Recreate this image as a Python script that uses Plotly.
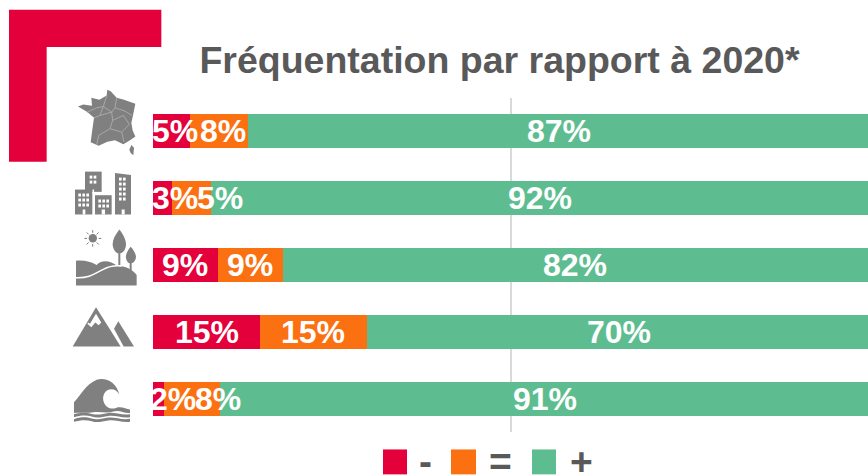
import re
import plotly.graph_objects as go

categories = ["France", "Urbain", "Campagne", "Montagne", "Littoral"]
series_names = ["-", "=", "+"]
series_colors = ["#E4003A", "#FB7011", "#5EBD90"]
moins = [5.2, 2.7, 9.1, 15.0, 1.6]
egal = [8.1, 5.4, 9.1, 14.9, 7.8]
plus = [86.7, 91.9, 81.8, 70.1, 90.6]
labels = [["5%", "3%", "9%", "15%", "2%"],
          ["8%", "5%", "9%", "15%", "8%"],
          ["87%", "92%", "82%", "70%", "91%"]]
label_pos = [[3.1, 3.1, 4.5, 7.5, 2.8],
             [9.8, 9.4, 13.6, 22.4, 9.1],
             [56.7, 54.0, 59.0, 65.1, 54.8]]
title_text = "Fréquentation par rapport à 2020*"

W, H = 868, 476
L, R, T, B = 153, 0, 97.5, 43.5
GREY = "#808080"
TXT = "#595959"

def conv(path, oy=0.0, ox=0.0):
    """Path written in 3x zoom pixels -> paper coordinates."""
    toks = re.findall(r"[A-Za-z]|-?\d+\.?\d*", path)
    out, isx = [], True
    for t in toks:
        if t.isalpha():
            out.append(t); isx = True
        else:
            v = float(t)
            if isx:
                out.append(f"{(v / 3 + ox - L) / (W - L - R):.5f}")
            else:
                out.append(f"{(H - B - (v / 3 + oy)) / (H - T - B):.5f}")
            isx = not isx
    return " ".join(out)

shapes = []
def fill(path, color=GREY, oy=0.0, ox=0.0):
    shapes.append(dict(type="path", xref="paper", yref="paper", path=conv(path, oy, ox),
                       fillcolor=color, line=dict(width=0), layer="above"))
def stroke(path, color="white", width=1.5, oy=0.0):
    shapes.append(dict(type="path", xref="paper", yref="paper", path=conv(path, oy),
                       line=dict(color=color, width=width), layer="above"))
def rect(x0, y0, x1, y1, color=GREY, oy=0.0, ox=0.0):
    fill(f"M {x0} {y0} L {x1} {y0} L {x1} {y1} L {x0} {y1} Z", color, oy, ox)

# red corner
fill("M 27 27 L 484 27 L 484 139 L 140 139 L 140 484 L 27 484 Z", "#E4003A")

# France
fill("M 322 268 L 332 272 L 350 292 L 372 298 L 406 310 L 400 340 L 394 368 L 398 390 L 406 408 "
     "L 390 420 L 370 432 L 345 420 L 322 424 L 296 436 L 272 426 L 276 395 L 282 352 L 262 335 "
     "L 234 318 L 250 312 L 276 316 L 274 292 L 298 298 L 320 285 Z")
fill("M 394 434 L 402 442 L 400 465 L 392 458 L 388 448 Z")
for p in ["M 320 286 L 310 318 L 335 335 L 345 322 L 350 292",
          "M 345 322 L 375 332 L 396 345",
          "M 262 335 L 290 322 L 310 318 L 300 345 L 282 352",
          "M 300 345 L 335 335 L 338 360 L 330 385 L 296 405 L 290 434",
          "M 338 360 L 370 345 L 388 372 L 365 395 L 330 385",
          "M 365 395 L 372 425"]:
    stroke(p, "#A8A8A8", 1)

# City
rect(255, 514, 305, 575)
rect(225, 568, 277, 643)
rect(285, 585, 335, 643)
fill("M 345 518 L 393 524 L 393 643 L 345 643 Z")
stroke("M 280 568 L 280 578 L 305 578", "white", 1.5)
for (x0, y0, nx, ny) in [(269, 526, 2, 2), (235, 580, 3, 3), (295, 598, 3, 2), (357, 532, 2, 5)]:
    for i in range(nx):
        for j in range(ny):
            rect(x0 + i * 12, y0 + j * 15, x0 + i * 12 + 8, y0 + j * 15 + 9, "white")
rect(248, 628, 256, 643, "white")
rect(305, 628, 315, 643, "white")
rect(365, 628, 374, 643, "white")

# Landscape
shapes.append(dict(type="circle", xref="paper", yref="paper",
                   x0=(266 / 3 - L) / (W - L - R), x1=(291 / 3 - L) / (W - L - R),
                   y0=(H - B - (230 + 37 / 3)) / (H - T - B), y1=(H - B - (230 + 12 / 3)) / (H - T - B),
                   fillcolor=GREY, line=dict(width=0), layer="above"))
for p in ["M 278 0 L 278 8", "M 278 42 L 278 50", "M 253 25 L 261 25", "M 296 25 L 304 25",
          "M 260 7 L 266 13", "M 290 37 L 296 43", "M 260 43 L 266 37", "M 290 13 L 296 7"]:
    stroke(p, GREY, 1, 230)
oy = 230
fill("M 358 -2 C 345 15 337 30 338 45 C 340 62 350 70 355 70 L 355 106 L 361 106 L 361 70 "
     "C 370 68 378 58 378 42 C 378 28 368 10 358 -2 Z", GREY, oy)
fill("M 392 50 C 382 62 376 75 378 85 C 380 95 386 100 389 100 L 389 125 L 395 125 L 395 100 "
     "C 402 98 408 90 408 80 C 407 70 400 58 392 50 Z", GREY, oy)
fill("M 228 92 C 255 90 272 95 290 105 C 300 90 330 88 352 108 C 375 108 398 118 410 135 "
     "L 410 167 L 228 167 Z", GREY, oy)
stroke("M 228 143 C 270 145 285 130 310 118 C 325 110 345 106 365 108", "white", 1.5, oy)

# Mountain
fill("M 288 232 L 362 350 L 218 350 Z", GREY, oy)
fill("M 355 274 L 402 350 L 371 350 L 342 297 Z", GREY, oy)
fill("M 288 246 L 306 276 L 296 286 L 286 278 L 274 292 L 262 282 Z", "white", oy)
fill("M 288 240 L 312 278 L 306 282 L 288 252 L 270 282 L 264 278 Z", GREY, oy)

# Wave
fill("M 222 518 C 240 500 255 465 290 450 C 320 442 350 460 358 495 C 350 480 335 475 322 482 "
     "C 305 492 305 520 322 532 C 330 538 340 538 348 535 C 365 530 378 538 390 540 L 390 550 "
     "C 370 552 360 540 340 546 C 320 552 300 545 280 548 C 260 552 240 548 222 550 Z", GREY, oy)
fill("M 222 554 C 240 548 260 548 275 553 C 295 558 310 552 325 550 C 345 548 365 558 390 554 "
     "L 390 563 C 365 566 345 556 325 559 C 305 563 290 566 275 561 C 260 556 240 557 222 563 Z",
     GREY, oy)
fill("M 222 569 C 240 562 260 562 275 567 C 295 572 310 566 325 564 C 345 562 365 572 390 568 "
     "L 390 577 C 365 580 345 570 325 573 C 305 577 290 580 275 575 C 260 570 240 571 222 577 Z",
     GREY, oy)

# legend swatches
rect(69, 90, 141, 165, series_colors[0], 420, 360)
rect(273, 90, 348, 165, series_colors[1], 420, 360)
rect(516, 90, 588, 165, series_colors[2], 420, 360)

fig = go.Figure()
for name, vals, col in zip(series_names, [moins, egal, plus], series_colors):
    fig.add_trace(go.Bar(y=categories, x=vals, name=name, orientation="h",
                         marker=dict(color=col, line=dict(width=0))))

annotations = []
for row_lab, row_pos in zip(labels, label_pos):
    for cat, lab, pos in zip(categories, row_lab, row_pos):
        annotations.append(dict(x=pos, y=cat, xref="x", yref="y", text=f"<b>{lab}</b>", showarrow=False,
                                font=dict(family="Liberation Sans", size=32, color="white"),
                                xanchor="center", yanchor="middle"))

for name, px, py in zip(series_names, [425.5, 500.5, 581.5], [462, 462, 462]):
    annotations.append(dict(x=(px - L) / (W - L - R), y=(H - B - py) / (H - T - B), xref="paper", yref="paper",
                            text=f"<b>{name}</b>", showarrow=False, xanchor="center", yanchor="middle",
                            font=dict(family="Liberation Sans", size=39, color=TXT)))

fig.update_layout(
    width=W, height=H, autosize=False,
    margin=dict(l=L, r=R, t=T, b=B, pad=0),
    paper_bgcolor="white", plot_bgcolor="white",
    barmode="stack", bargap=0.49, showlegend=False,
    title=dict(text=f"<b>{title_text}</b>", x=499.5 / W, xanchor="center", y=1 - 60 / H, yanchor="middle",
               font=dict(family="Liberation Sans", size=37.5, color=TXT)),
    xaxis=dict(range=[0, 99.86], tickvals=[0, 50], showticklabels=False, showgrid=True,
               gridcolor="#D9D9D9", gridwidth=2, zeroline=False, showline=False, ticks=""),
    yaxis=dict(autorange="reversed", showticklabels=False, showgrid=False, zeroline=False,
               showline=False, ticks=""),
    shapes=shapes, annotations=annotations,
)
fig.write_html("out.html", config={"displayModeBar": False},
               post_script="document.body.style.margin='0';document.body.style.overflow='hidden';")
